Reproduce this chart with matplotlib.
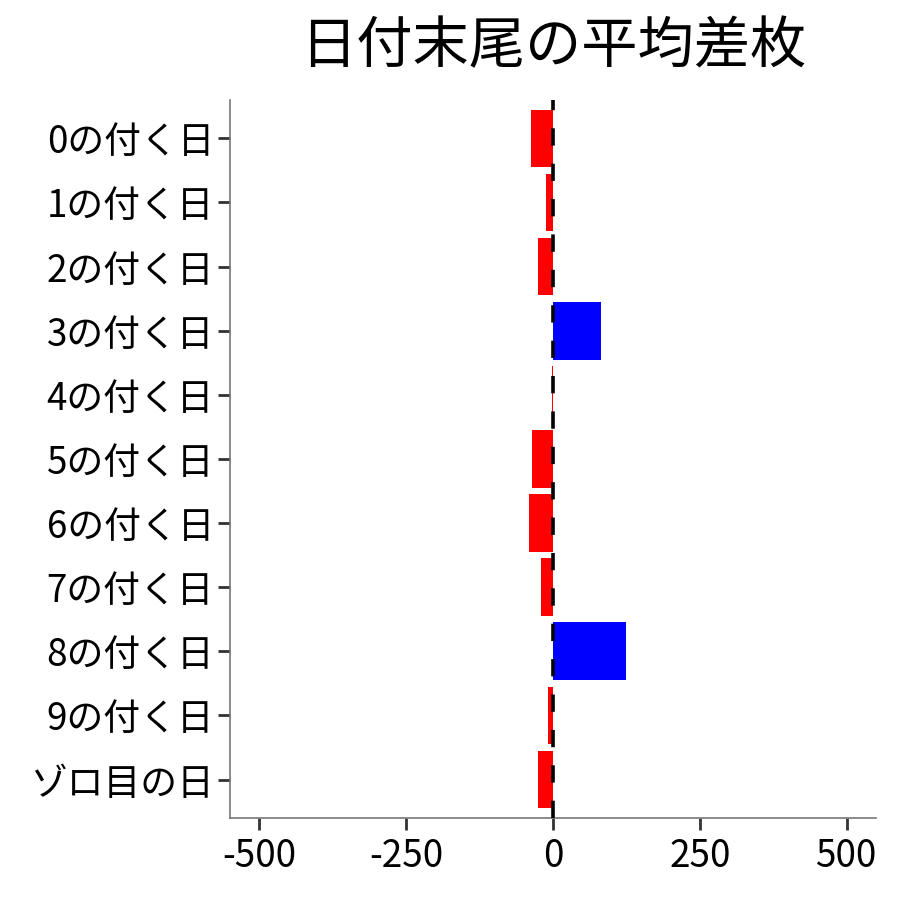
import matplotlib
matplotlib.use("Agg")
import matplotlib.pyplot as plt

plt.rcParams['font.family'] = ['Noto Sans CJK JP', 'DejaVu Sans']

# data
categories = ['0の付く日', '1の付く日', '2の付く日', '3の付く日', '4の付く日',
              '5の付く日', '6の付く日', '7の付く日', '8の付く日', '9の付く日',
              'ゾロ目の日']
values = [-37, -12, -26, 81, -2, -36, -41, -20, 125, -9, -26]
x_ticks = [-500, -250, 0, 250, 500]

fig = plt.figure(figsize=(9, 9), dpi=100)
ax = fig.add_axes([0.2556, 0.0911, 0.7177, 0.7979])

colors = ['blue' if v > 0 else 'red' for v in values]
ypos = list(range(len(categories)))
ax.barh(ypos, values, height=0.9, color=colors, zorder=2)

# reference line at zero
ax.axvline(0, color='black', linewidth=2.6, dashes=[4.8, 5.0], zorder=3)

ax.set_xlim(-550, 550)
ax.set_ylim(len(categories) - 0.4, -0.6)
ax.set_yticks(ypos)
ax.set_yticklabels(categories)
ax.set_xticks(x_ticks)
ax.set_xticklabels([str(t) for t in x_ticks])

ax.tick_params(axis='both', labelsize=26.5, length=8.5, width=2,
               color='#333333', labelcolor='black', pad=3)
ax.tick_params(axis='x', pad=5)

for side in ['top', 'right']:
    ax.spines[side].set_visible(False)
for side in ['left', 'bottom']:
    ax.spines[side].set_color('#777777')
    ax.spines[side].set_linewidth(1.2)

fig.text(0.6145, 0.947, '日付末尾の平均差枚', fontsize=40.5, ha='center', va='center')

fig.savefig('out.png', dpi=100)
